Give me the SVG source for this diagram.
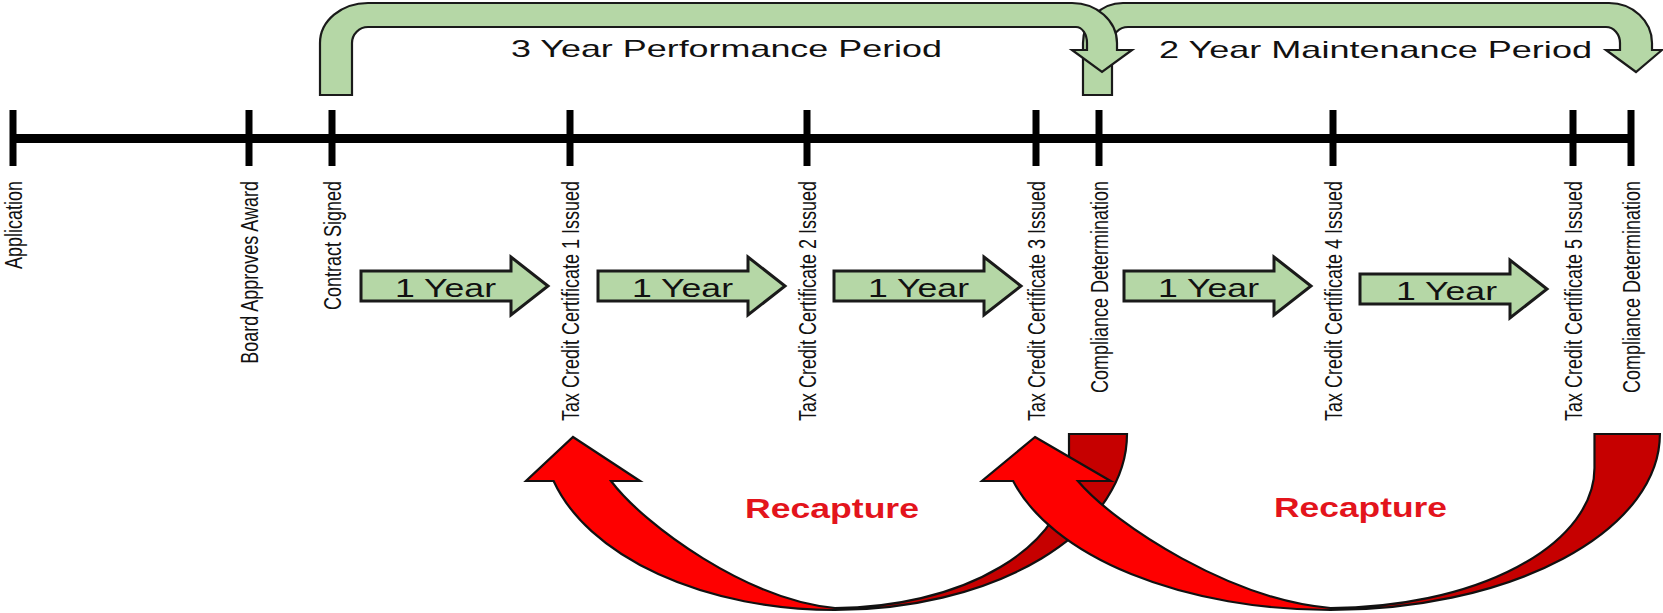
<svg xmlns="http://www.w3.org/2000/svg" xmlns:xlink="http://www.w3.org/1999/xlink" width="1663" height="613" viewBox="0 0 1663 613">
<style>
.lbl{font-family:"Liberation Sans",Arial,sans-serif;font-size:18px;fill:#111}
.yr{font-family:"Liberation Sans",Arial,sans-serif;font-size:25px;fill:#111}
.per{font-family:"Liberation Sans",Arial,sans-serif;font-size:24px;fill:#111}
.rec{font-family:"Liberation Sans",Arial,sans-serif;font-size:28px;font-weight:bold;fill:#e3141c}
.green{fill:#b5d7a6;stroke:#1a1a1a;stroke-width:2.2;stroke-linejoin:miter}
.garrow{fill:#b5d7a6;stroke:#1a1a1a;stroke-width:3}
.bright{fill:#fe0000;stroke:#111;stroke-width:2.2;vector-effect:non-scaling-stroke}
.dark{fill:#c60000;stroke:#111;stroke-width:2.2;vector-effect:non-scaling-stroke}
.tick{fill:#000}
</style>
<defs>
<path id="yearArrow" d="M0 -15 L150 -15 L150 -29 L187 0 L150 29 L150 15 L0 15 Z"/>
<g id="recap">
<path class="dark" d="M1069 434 L1127 434 A292 176 0 0 1 835 610 L835 608 A234 140 0 0 0 1069 468 Z"/>
<path class="bright" d="M573 437 L640 481 L611 481 C645 526 748 600 835 608 L835 610 A292 176 0 0 1 553.6 481 L526 481 Z"/>
</g>
</defs>
<rect width="1663" height="613" fill="#fff"/>

<g id="period-arrows">
<g id="maintenance-period">
<path class="green" d="M1083 95 L1083 43 A40 40 0 0 1 1123 3 L1609 3 A43 40 0 0 1 1652 43 L1652 50 L1662 50 L1636 72 L1606 50 L1620 50 L1620 43 A14 16 0 0 0 1606 27 L1128 27 A16 16 0 0 0 1112 43 L1112 95 Z"/>
<text class="per" x="1159" y="58" textLength="433" lengthAdjust="spacingAndGlyphs">2 Year Maintenance Period</text>
</g>
<g id="performance-period">
<path class="green" d="M320 95 L320 43 A48 40 0 0 1 368 3 L1072 3 A45 40 0 0 1 1117 43 L1117 50 L1132 50 L1102 72 L1072 50 L1087 50 L1087 43 A11 16 0 0 0 1076 27 L368 27 A16 16 0 0 0 352 43 L352 95 Z"/>
<text class="per" x="511" y="57" textLength="431" lengthAdjust="spacingAndGlyphs">3 Year Performance Period</text>
</g>
</g>

<g id="timeline">
<rect class="tick" x="13" y="134" width="1618" height="9"/>
</g>

<g id="ev-application"><rect class="tick" x="9.5" y="110" width="7" height="56"/><text class="lbl" text-anchor="end" transform="translate(22,181) scale(1.28,1) rotate(-90)">Application</text></g>
<g id="ev-board"><rect class="tick" x="245.5" y="110" width="7" height="56"/><text class="lbl" text-anchor="end" transform="translate(258,181) scale(1.28,1) rotate(-90)">Board Approves Award</text></g>
<g id="ev-contract"><rect class="tick" x="328.5" y="110" width="7" height="56"/><text class="lbl" text-anchor="end" transform="translate(341,181) scale(1.28,1) rotate(-90)">Contract Signed</text></g>
<g id="ev-tcc1"><rect class="tick" x="566.5" y="110" width="7" height="56"/><text class="lbl" text-anchor="end" transform="translate(579,181) scale(1.28,1) rotate(-90)">Tax Credit Certificate 1 Issued</text></g>
<g id="ev-tcc2"><rect class="tick" x="803.5" y="110" width="7" height="56"/><text class="lbl" text-anchor="end" transform="translate(816,181) scale(1.28,1) rotate(-90)">Tax Credit Certificate 2 Issued</text></g>
<g id="ev-tcc3"><rect class="tick" x="1032.5" y="110" width="7" height="56"/><text class="lbl" text-anchor="end" transform="translate(1045,181) scale(1.28,1) rotate(-90)">Tax Credit Certificate 3 Issued</text></g>
<g id="ev-cd1"><rect class="tick" x="1095.5" y="110" width="7" height="56"/><text class="lbl" text-anchor="end" transform="translate(1108,181) scale(1.28,1) rotate(-90)">Compliance Determination</text></g>
<g id="ev-tcc4"><rect class="tick" x="1329.5" y="110" width="7" height="56"/><text class="lbl" text-anchor="end" transform="translate(1342,181) scale(1.28,1) rotate(-90)">Tax Credit Certificate 4 Issued</text></g>
<g id="ev-tcc5"><rect class="tick" x="1569.5" y="110" width="7" height="56"/><text class="lbl" text-anchor="end" transform="translate(1582,181) scale(1.28,1) rotate(-90)">Tax Credit Certificate 5 Issued</text></g>
<g id="ev-cd2"><rect class="tick" x="1627.5" y="110" width="7" height="56"/><text class="lbl" text-anchor="end" transform="translate(1640,181) scale(1.28,1) rotate(-90)">Compliance Determination</text></g>

<g id="year-arrows">
<g id="year1"><use href="#yearArrow" xlink:href="#yearArrow" class="garrow" transform="translate(361,286)"/><text class="yr" x="395" y="297" textLength="101" lengthAdjust="spacingAndGlyphs">1 Year</text></g>
<g id="year2"><use href="#yearArrow" xlink:href="#yearArrow" class="garrow" transform="translate(598,286)"/><text class="yr" x="632" y="297" textLength="101" lengthAdjust="spacingAndGlyphs">1 Year</text></g>
<g id="year3"><use href="#yearArrow" xlink:href="#yearArrow" class="garrow" transform="translate(834,286)"/><text class="yr" x="868" y="297" textLength="101" lengthAdjust="spacingAndGlyphs">1 Year</text></g>
<g id="year4"><use href="#yearArrow" xlink:href="#yearArrow" class="garrow" transform="translate(1124,286)"/><text class="yr" x="1158" y="297" textLength="101" lengthAdjust="spacingAndGlyphs">1 Year</text></g>
<g id="year5"><use href="#yearArrow" xlink:href="#yearArrow" class="garrow" transform="translate(1360,289)"/><text class="yr" x="1396" y="300" textLength="101" lengthAdjust="spacingAndGlyphs">1 Year</text></g>
</g>

<g id="recapture-arrows">
<g id="recapture1"><use href="#recap" xlink:href="#recap"/></g>
<g id="recapture2"><use href="#recap" xlink:href="#recap" transform="translate(1035,0) scale(1.128,1) translate(-573,0)"/></g>
</g>
<text class="rec" x="745" y="518" textLength="174" lengthAdjust="spacingAndGlyphs">Recapture</text>
<text class="rec" x="1274" y="517" textLength="173" lengthAdjust="spacingAndGlyphs">Recapture</text>
</svg>
